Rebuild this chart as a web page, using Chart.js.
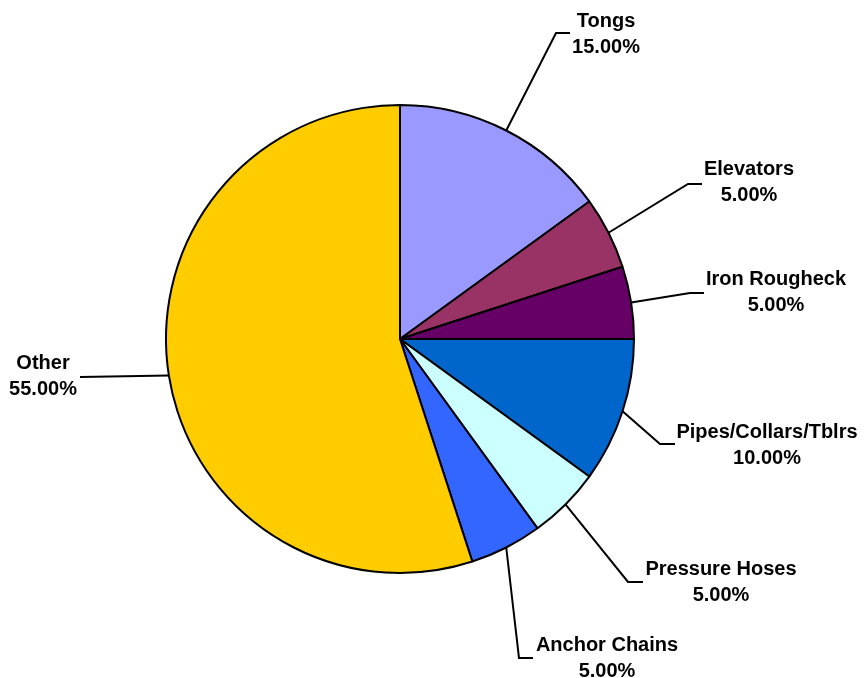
<!DOCTYPE html>
<html>
<head>
<meta charset="utf-8">
<script src="https://cdn.jsdelivr.net/npm/chart.js@4/dist/chart.umd.min.js"></script>
<style>
  html, body { margin: 0; padding: 0; background: #fff; }
  #wrap { width: 864px; height: 678px; }
</style>
</head>
<body>
<div id="wrap"><canvas id="myChart" width="864" height="678"></canvas></div>
<script>
const labels = ['Tongs', 'Elevators', 'Iron Rougheck', 'Pipes/Collars/Tblrs', 'Pressure Hoses', 'Anchor Chains', 'Other'];
const shares = [15, 5, 5, 10, 5, 5, 55];
const colors = ['#9999FF', '#993366', '#660066', '#0066CC', '#CCFFFF', '#3366FF', '#FFCC00'];

// where each label sits: elbow of leader, end of leader, text centre
const labelLayout = [
  { elbow: [556, 33], end: [570, 33], text: [606, 34] },
  { elbow: [688, 184], end: [702, 184], text: [749, 182] },
  { elbow: [690, 293], end: [704, 293], text: [776, 292] },
  { elbow: [660, 444], end: [675, 444], text: [767, 445] },
  { elbow: [628, 582], end: [643, 582], text: [721, 582] },
  { elbow: [519, 658], end: [533, 658], text: [607, 658] },
  { elbow: [80, 377], end: [80, 377], text: [43, 376] }
];

const leaderLabels = {
  id: 'leaderLabels',
  afterDatasetsDraw(chart) {
    const c = chart.ctx;
    const arcs = chart.getDatasetMeta(0).data;
    c.save();
    c.strokeStyle = '#000';
    c.lineWidth = 2;
    c.fillStyle = '#000';
    c.font = 'bold 20px "Liberation Sans", Arial, sans-serif';
    c.textAlign = 'center';
    c.textBaseline = 'middle';
    arcs.forEach((arc, i) => {
      const p = arc.getProps(['x', 'y', 'startAngle', 'endAngle', 'outerRadius'], true);
      const mid = (p.startAngle + p.endAngle) / 2;
      const sx = p.x + Math.cos(mid) * p.outerRadius;
      const sy = p.y + Math.sin(mid) * p.outerRadius;
      const L = labelLayout[i];
      c.beginPath();
      c.moveTo(sx, sy);
      c.lineTo(L.elbow[0], L.elbow[1]);
      c.lineTo(L.end[0], L.end[1]);
      c.stroke();
      c.fillText(labels[i], L.text[0], L.text[1] - 13);
      c.fillText(shares[i].toFixed(2) + '%', L.text[0], L.text[1] + 13);
    });
    c.restore();
  }
};

new Chart(document.getElementById('myChart'), {
  type: 'pie',
  data: {
    labels: labels,
    datasets: [{
      data: shares,
      backgroundColor: colors,
      borderColor: '#000',
      borderWidth: 2
    }]
  },
  options: {
    responsive: false,
    animation: false,
    layout: { padding: { top: 104, bottom: 104, left: 165, right: 229 } },
    plugins: {
      legend: { display: false },
      tooltip: { enabled: false }
    }
  },
  plugins: [leaderLabels]
});
</script>
</body>
</html>
